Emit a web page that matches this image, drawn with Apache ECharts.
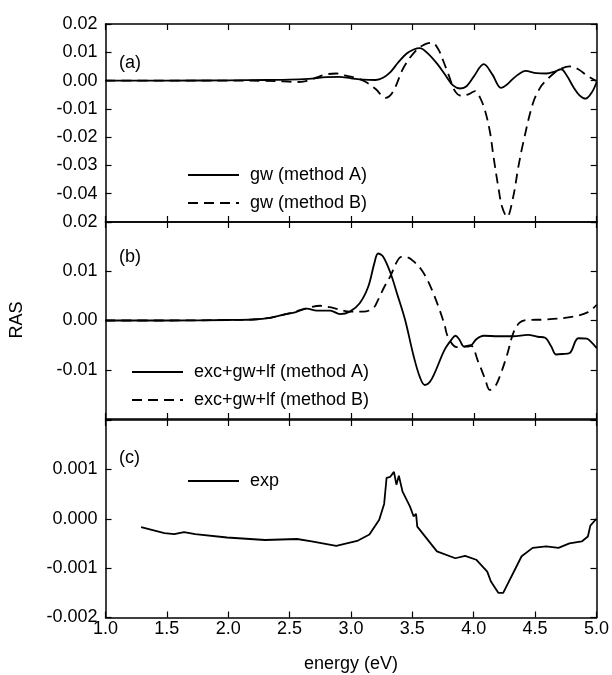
<!DOCTYPE html>
<html>
<head>
<meta charset="utf-8">
<script src="https://cdn.jsdelivr.net/npm/echarts@6/dist/echarts.min.js"></script>
<style>html,body{margin:0;padding:0;background:#fff;}#c{width:612px;height:675px;}</style>
</head>
<body>
<div id="c"></div>
<script>
// ---- Data ----
var xTicks = [1.0, 1.5, 2.0, 2.5, 3.0, 3.5, 4.0, 4.5, 5.0];

// Panel (a)
var aA_E = [1.0, 1.5, 2.0, 2.3, 2.5, 2.65, 2.8, 2.9, 3.0, 3.1, 3.2, 3.26, 3.32, 3.38, 3.45, 3.51, 3.56, 3.62, 3.70, 3.77, 3.83, 3.89, 3.94, 4.0, 4.08, 4.15, 4.22, 4.27, 4.32, 4.37, 4.42, 4.51, 4.59, 4.66, 4.71, 4.76, 4.81, 4.86, 4.91, 4.96, 5.0];
var aA_V = [0, 0, 0.0001, 0.0002, 0.0003, 0.0006, 0.0012, 0.0013, 0.0008, 0.0003, 0.0002, 0.001, 0.003, 0.0062, 0.0095, 0.011, 0.0115, 0.0098, 0.006, 0.0018, -0.0017, -0.0028, -0.002, 0.0015, 0.0058, 0.0022, -0.0026, -0.0014, 0.0007, 0.0024, 0.0034, 0.0026, 0.0025, 0.0032, 0.004, 0.0015, -0.0023, -0.0052, -0.0064, -0.0042, -0.0005];
var aB_E = [1.0, 1.5, 2.0, 2.3, 2.45, 2.55, 2.62, 2.7, 2.8, 2.88, 2.95, 3.05, 3.12, 3.2, 3.28, 3.34, 3.43, 3.53, 3.6, 3.66, 3.71, 3.75, 3.79, 3.85, 3.9, 3.96, 4.01, 4.05, 4.09, 4.13, 4.16, 4.2, 4.23, 4.27, 4.32, 4.36, 4.40, 4.48, 4.54, 4.59, 4.65, 4.71, 4.78, 4.85, 4.92, 5.0];
var aB_V = [0, 0, 0, -0.0001, -0.0003, -0.0005, -0.0003, 0.0008, 0.0022, 0.0025, 0.0018, 0.0008, -0.0005, -0.003, -0.0061, -0.004, 0.0048, 0.0107, 0.0128, 0.0134, 0.0111, 0.007, 0.0025, -0.004, -0.0054, -0.0048, -0.0037, -0.006, -0.0105, -0.018, -0.027, -0.038, -0.0447, -0.0482, -0.0411, -0.031, -0.0223, -0.0081, -0.0025, 0.0001, 0.0025, 0.0042, 0.005, 0.004, 0.0018, -0.0002];

// Panel (b)
var bA_E = [1.0, 1.5, 2.0, 2.2, 2.35, 2.45, 2.55, 2.64, 2.72, 2.83, 2.91, 2.99, 3.07, 3.14, 3.19, 3.22, 3.26, 3.32, 3.38, 3.44, 3.51, 3.56, 3.60, 3.64, 3.68, 3.76, 3.82, 3.85, 3.88, 3.92, 3.97, 4.02, 4.08, 4.2, 4.32, 4.44, 4.52, 4.58, 4.63, 4.67, 4.72, 4.78, 4.85, 4.92, 4.96, 5.0];
var bA_V = [0, 0, 0.0001, 0.0002, 0.0006, 0.0012, 0.0017, 0.0024, 0.002, 0.002, 0.0013, 0.0018, 0.0035, 0.0069, 0.0117, 0.0136, 0.013, 0.0097, 0.005, 0.0001, -0.0073, -0.0115, -0.0131, -0.0125, -0.0107, -0.006, -0.0038, -0.0031, -0.0038, -0.0053, -0.0052, -0.0038, -0.0031, -0.0032, -0.0032, -0.0029, -0.0033, -0.0035, -0.0053, -0.0069, -0.0068, -0.0066, -0.0036, -0.0037, -0.0045, -0.0056];
var bB_E = [1.0, 1.5, 2.0, 2.2, 2.35, 2.5, 2.64, 2.75, 2.86, 2.99, 3.10, 3.18, 3.22, 3.27, 3.32, 3.37, 3.41, 3.46, 3.51, 3.57, 3.62, 3.67, 3.72, 3.76, 3.79, 3.86, 3.92, 3.97, 4.04, 4.09, 4.13, 4.17, 4.21, 4.27, 4.32, 4.37, 4.43, 4.59, 4.81, 4.93, 5.0];
var bB_V = [0, 0, 0.0001, 0.0002, 0.0006, 0.0015, 0.0025, 0.003, 0.0025, 0.0018, 0.0018, 0.0025, 0.0042, 0.0068, 0.009, 0.0118, 0.0129, 0.0128, 0.012, 0.0104, 0.0083, 0.0055, 0.0022, -0.0008, -0.0034, -0.0054, -0.0053, -0.005, -0.0087, -0.0118, -0.0141, -0.0135, -0.0114, -0.007, -0.0026, -0.0005, 0.0001, 0.0002, 0.0008, 0.0017, 0.0032];

// Panel (c) experiment
var c_E = [1.29, 1.48, 1.56, 1.64, 1.73, 1.99, 2.30, 2.56, 2.68, 2.88, 3.05, 3.15, 3.23, 3.27, 3.29, 3.32, 3.35, 3.37, 3.39, 3.42, 3.48, 3.51, 3.53, 3.54, 3.70, 3.85, 3.93, 4.02, 4.11, 4.14, 4.20, 4.24, 4.39, 4.48, 4.59, 4.69, 4.78, 4.88, 4.93, 4.95, 5.0];
var c_V = [-0.00017, -0.00029, -0.00031, -0.00027, -0.00031, -0.00038, -0.00043, -0.00041, -0.00046, -0.00055, -0.00045, -0.00032, -0.00002, 0.0003, 0.00083, 0.00085, 0.00095, 0.00069, 0.00087, 0.00055, 0.00025, 0.00005, 0.0001, -0.00016, -0.00066, -0.0008, -0.00075, -0.00083, -0.00107, -0.00127, -0.0015, -0.0015, -0.00076, -0.00059, -0.00056, -0.00059, -0.0005, -0.00046, -0.00036, -0.00014, 0];

// y ranges [min, max, step]; which end label is hidden
var yTicksA = [-0.05, 0.02, 0.01];
var yTicksB = [-0.02, 0.02, 0.01];
var yTicksC = [-0.002, 0.002, 0.001];

function pairs(E, V) { return E.map(function (e, i) { return [e, V[i]]; }); }

var FONT = 'Liberation Sans';
var FS = 18;
var L = 105.5, R = 15.3;
var grids = [
  { left: L, right: R, top: 24, height: 198 },
  { left: L, right: R, top: 222, height: 197 },
  { left: L, right: R, top: 420, height: 197.5 }
];
var lineW = 1.5;

var xAxes = [], yAxes = [];
for (var g = 0; g < 3; g++) {
  ['bottom', 'top'].forEach(function (pos) {
    xAxes.push({
      type: 'value', gridIndex: g, position: pos, min: xTicks[0], max: xTicks[xTicks.length - 1], interval: xTicks[1] - xTicks[0],
      axisLine: { show: true, onZero: false, lineStyle: { color: '#000', width: lineW } },
      axisTick: { show: true, inside: true, length: 6, lineStyle: { color: '#000', width: 1.2 } },
      axisLabel: { show: (g === 2 && pos === 'bottom'), color: '#000', fontFamily: FONT, fontSize: FS, margin: 3,
        formatter: function (v) { return v.toFixed(1); } },
      splitLine: { show: false },
      name: (g === 2 && pos === 'bottom') ? 'energy (eV)' : '',
      nameLocation: 'middle', nameGap: 38,
      nameTextStyle: { color: '#000', fontFamily: FONT, fontSize: FS }
    });
  });
}
var yCfg = [
  { t: yTicksA, d: 2, hide: 'min' },
  { t: yTicksB, d: 2, hide: 'min' },
  { t: yTicksC, d: 3, hide: 'max' }
];
for (var g2 = 0; g2 < 3; g2++) {
  (function (g) {
    var cfg = yCfg[g];
    var mn = cfg.t[0], mx = cfg.t[1], iv = cfg.t[2];
    ['left', 'right'].forEach(function (pos) {
      yAxes.push({
        type: 'value', gridIndex: g, position: pos, min: mn, max: mx, interval: iv,
        axisLine: { show: true, onZero: false, lineStyle: { color: '#000', width: lineW } },
        axisTick: { show: true, inside: true, length: 6, lineStyle: { color: '#000', width: 1.2 } },
        axisLabel: { show: pos === 'left', color: '#000', fontFamily: FONT, fontSize: FS, margin: 8,
          formatter: function (v) {
            if (cfg.hide === 'min' && Math.abs(v - mn) < iv / 100) return '';
            if (cfg.hide === 'max' && Math.abs(v - mx) < iv / 100) return '';
            var s = Math.abs(v).toFixed(cfg.d);
            return (v < -1e-12 ? '-' : '') + s;
          } },
        splitLine: { show: false }
      });
    });
  })(g2);
}

function ser(name, xi, yi, data, dashed, smooth) {
  return {
    name: name, type: 'line', xAxisIndex: xi, yAxisIndex: yi, data: data,
    symbol: 'none', smooth: smooth, animation: false,
    lineStyle: { color: '#000', width: 1.8, type: dashed ? [10, 6] : 'solid' },
    itemStyle: { color: '#000' }
  };
}

var series = [
  ser('gw (method A)', 0, 0, pairs(aA_E, aA_V), false, 0.35),
  ser('gw (method B)', 0, 0, pairs(aB_E, aB_V), true, 0.35),
  ser('exc+gw+lf (method A)', 2, 2, pairs(bA_E, bA_V), false, 0.35),
  ser('exc+gw+lf (method B)', 2, 2, pairs(bB_E, bB_V), true, 0.35),
  ser('exp', 4, 4, pairs(c_E, c_V), false, false)
];

function legend(names, left, top) {
  return {
    data: names, left: left, top: top, orient: 'vertical', padding: 0,
    itemWidth: 51, itemHeight: 14, itemGap: 10, selectedMode: false,
    itemStyle: { color: 'rgba(0,0,0,0)', borderColor: 'rgba(0,0,0,0)', borderWidth: 0, opacity: 0 },
    textStyle: { color: '#000', fontFamily: FONT, fontSize: FS, lineHeight: 18, padding: [0, 0, 0, 6] }
  };
}

var option = {
  backgroundColor: '#fff',
  animation: false,
  grid: grids,
  xAxis: xAxes,
  yAxis: yAxes,
  series: series,
  legend: [
    legend(['gw (method A)', 'gw (method B)'], 187, 166),
    legend(['exc+gw+lf (method A)', 'exc+gw+lf (method B)'], 131, 363),
    legend(['exp'], 187, 472)
  ],
  graphic: [
    { type: 'text', left: 119, top: 54, style: { text: '(a)', font: FS + 'px ' + FONT, fill: '#000' } },
    { type: 'text', left: 119, top: 248, style: { text: '(b)', font: FS + 'px ' + FONT, fill: '#000' } },
    { type: 'text', left: 119, top: 449, style: { text: '(c)', font: FS + 'px ' + FONT, fill: '#000' } },
    { type: 'text', x: 17, y: 320, rotation: Math.PI / 2, style: { text: 'RAS', font: FS + 'px ' + FONT, fill: '#000', align: 'center', verticalAlign: 'middle' } }
  ]
};

var chart = echarts.init(document.getElementById('c'), null, { renderer: 'canvas' });
chart.setOption(option);
</script>
</body>
</html>
